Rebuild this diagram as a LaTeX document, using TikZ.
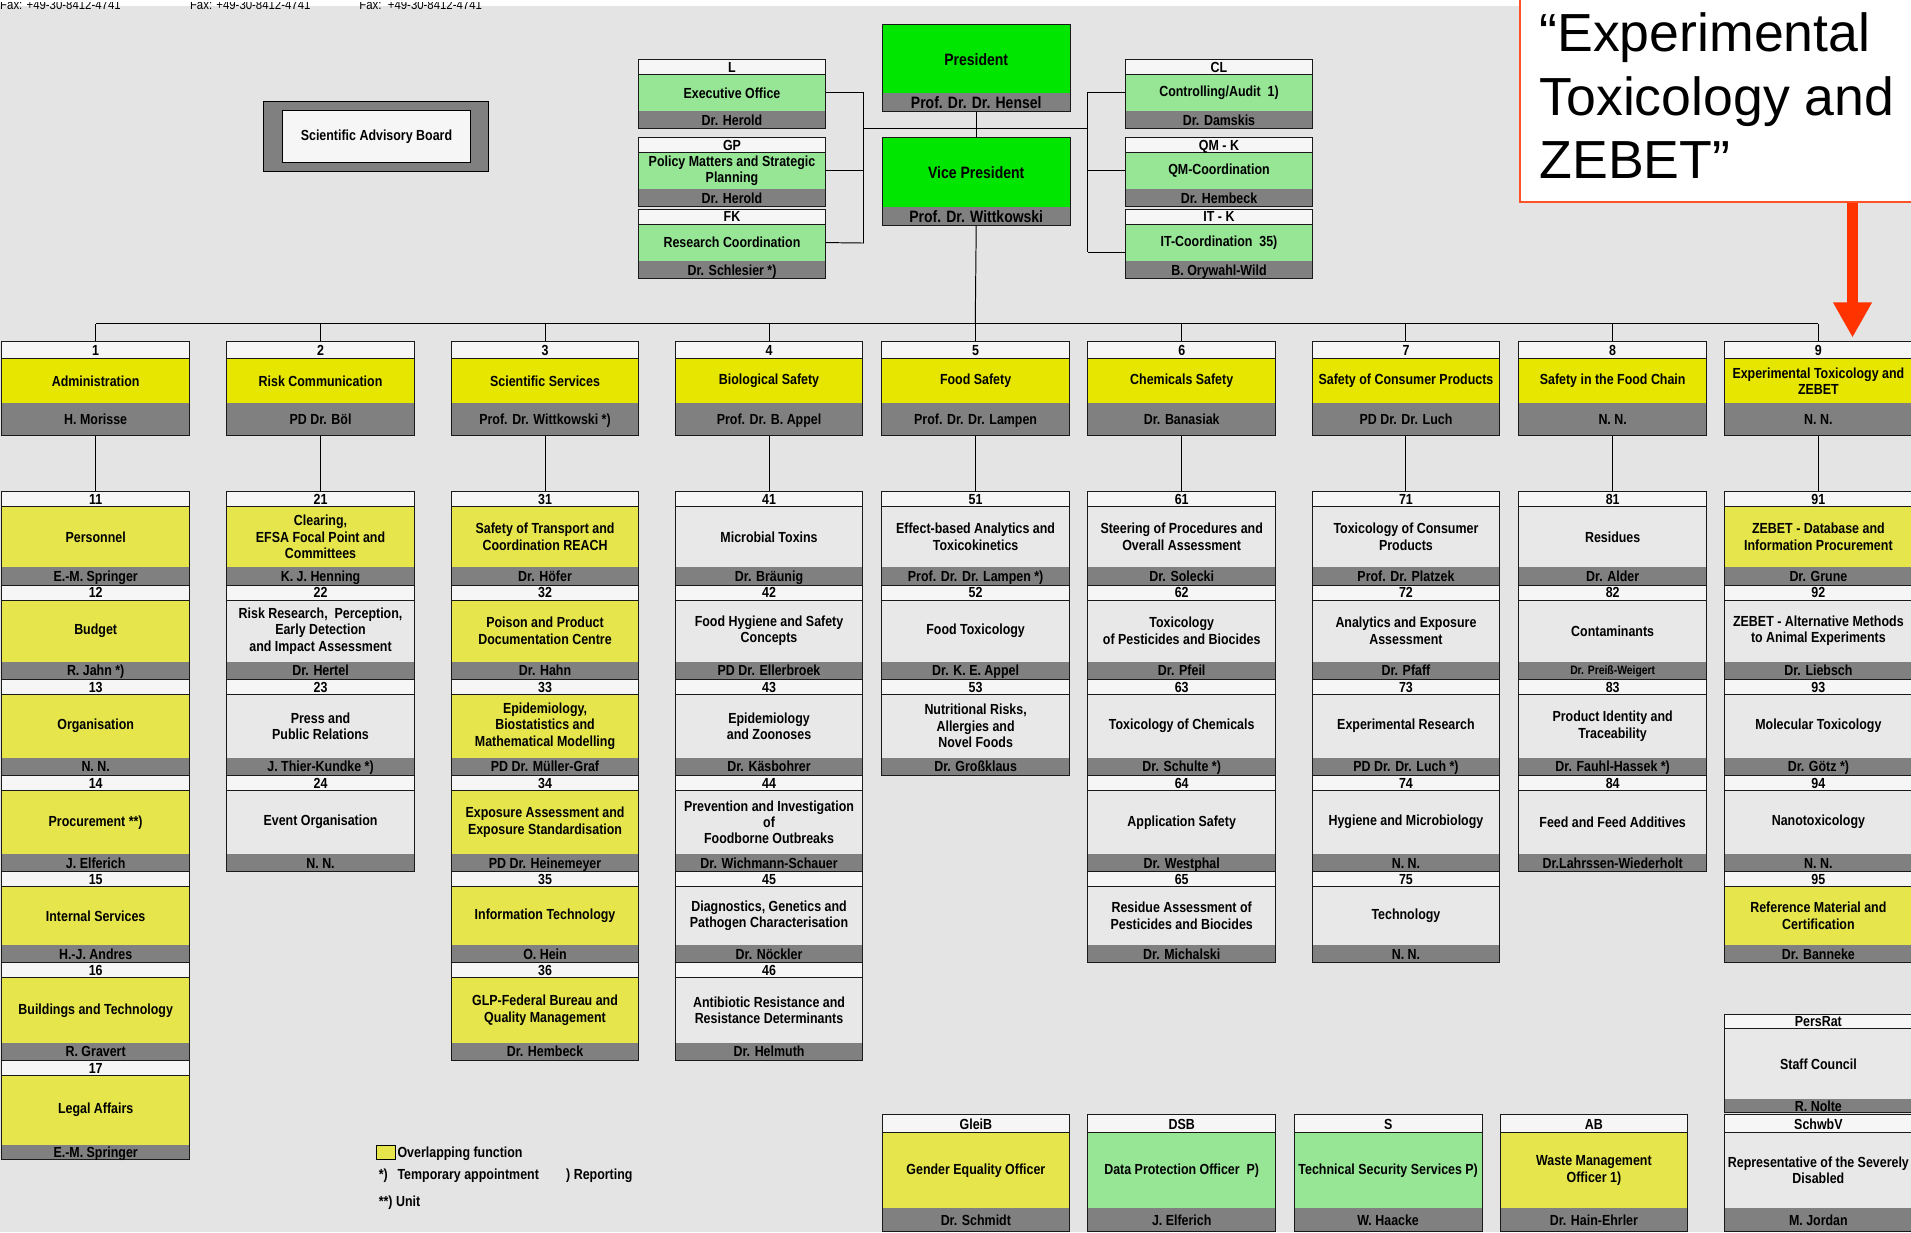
\documentclass[tikz,border=0pt]{standalone}
\usepackage{fontspec}
\setmainfont{Liberation Sans}
\newfontfamily\nar{Liberation Sans}[FakeStretch=0.85]
\usetikzlibrary{arrows.meta}
\definecolor{bg}{HTML}{E4E4E4}
\definecolor{hdr}{HTML}{F6F6F6}
\definecolor{wht}{HTML}{E8E8E8}
\definecolor{dyel}{HTML}{E6E600}
\definecolor{syel}{HTML}{E6E64C}
\definecolor{lgrn}{HTML}{96E696}
\definecolor{pgrn}{HTML}{00E600}
\definecolor{band}{HTML}{808080}
\definecolor{redann}{HTML}{FF3300}
\tikzset{
  boxline/.style={draw=black!90, line width=0.8pt},
  txt/.style={font={\nar\bfseries\fontsize{12}{13.5}\selectfont}, align=center, inner sep=0pt, text=black},
  line1/.style={txt, text height=8.6pt, text depth=0pt},
  conn/.style={draw=black, line width=0.8pt},
  big/.style={font={\nar\bfseries\fontsize{13.5}{15}\selectfont}, text height=9.7pt},
  small/.style={font={\nar\bfseries\fontsize{10}{11}\selectfont}, text height=7.2pt},
}
\def\hh{12.5}\def\bh{14.5}
% #1 name #2 left #3 top #4 bottom #5 header #6 fill #7 content #8 person #9 person style
\newcommand\ubox[9]{%
  \path[fill=hdr] (#2,#3) rectangle ++(154,\hh);
  \path[fill=#6] (#2,#3+\hh) rectangle (#2+154,#4-\bh);
  \path[fill=band] (#2,#4-\bh) rectangle (#2+154,#4);
  \node[boxline, minimum width=154, minimum height={(#4-#3)*1pt}, inner sep=0pt] (#1) at (#2+77,{(#3+#4)/2}) {};
  \draw[boxline] (#2,#3+\hh) -- ++(154,0);
  \node[line1] (#1h) at (#2+77,#3+\hh/2) {#5};
  \node[txt, minimum width=154, minimum height={(#4-#3-\hh-\bh)*1pt}] (#1c) at (#2+77,{(#3+\hh+#4-\bh)/2}) {#7};
  \node[line1,#9] (#1p) at (#2+77,#4-\bh/2) {#8};
}
\begin{document}
\begin{tikzpicture}[x=1pt,y=-1pt]
\useasboundingbox (0,0) rectangle (1568,1011);
\fill[bg] (0,0) rectangle (1568,1011);
\fill[white] (0,0) rectangle (1568,5);
% cut-off header texts
\begin{scope}
\clip (0,2.2) rectangle (600,12);
\node[anchor=base west, inner sep=0, font={\nar\fontsize{11}{12}\selectfont}] (fax1) at (0,7.7) {Fax: +49-30-8412-4741};
\node[anchor=base west, inner sep=0, font={\nar\fontsize{11}{12}\selectfont}] (fax2) at (155.7,7.7) {Fax: +49-30-8412-4741};
\node[anchor=base west, inner sep=0, font={\nar\fontsize{11}{12}\selectfont}] (fax3) at (294.7,7.7) {Fax:\ \ +49-30-8412-4741};
\end{scope}

% Scientific Advisory Board
\node[draw=black, line width=0.9pt, fill=band, minimum width=185, minimum height=57.5, inner sep=0] (sabO) at (308.5,112.2) {};
\node[txt, draw=black, line width=0.8pt, fill=hdr, minimum width=154.3, minimum height=42.4] (sab) at (308.9,112) {Scientific Advisory Board};

% top management
\def\hh{0}\def\bh{15}
\ubox{pres}{724}{20.5}{91.6}{}{pgrn}{{\fontsize{13.5}{15}\selectfont President}}{Prof. Dr. Dr. Hensel}{big}
\ubox{vp}{724}{112.7}{185.2}{}{pgrn}{{\fontsize{13.5}{15}\selectfont Vice President}}{Prof. Dr. Wittkowski}{big}
\def\hh{12.3}\def\bh{14.6}
\ubox{L}{523.6}{49.2}{105.6}{L}{lgrn}{Executive Office}{Dr. Herold}{}
\ubox{GP}{523.6}{112.7}{169.6}{GP}{lgrn}{Policy Matters and Strategic\\Planning}{Dr. Herold}{}
\ubox{FK}{523.6}{171.7}{228.7}{FK}{lgrn}{Research Coordination}{Dr. Schlesier *)}{}
\ubox{CL}{923.2}{49.2}{105.6}{CL}{lgrn}{Controlling/Audit\ \ 1)}{Dr. Damskis}{}
\ubox{QM}{923.2}{112.7}{169.6}{QM - K}{lgrn}{QM-Coordination}{Dr. Hembeck}{}
\ubox{IT}{923.2}{171.7}{228.7}{IT - K}{lgrn}{IT-Coordination\ \ 35)}{B. Orywahl-Wild}{}

% departments
\def\hh{13.7}\def\bh{26.8}
\ubox{d1}{1.5}{280.6}{357.7}{1}{dyel}{Administration}{H. Morisse}{}
\ubox{d2}{186}{280.6}{357.7}{2}{dyel}{Risk Communication}{PD Dr. B\"ol}{}
\ubox{d3}{370.2}{280.6}{357.7}{3}{dyel}{Scientific Services}{Prof. Dr. Wittkowski *)}{}
\ubox{d4}{554}{280.6}{357.7}{4}{dyel}{Biological Safety}{Prof. Dr. B. Appel}{}
\ubox{d5}{723.5}{280.6}{357.7}{5}{dyel}{Food Safety}{Prof. Dr. Dr. Lampen}{}
\ubox{d6}{892.6}{280.6}{357.7}{6}{dyel}{Chemicals Safety}{Dr. Banasiak}{}
\ubox{d7}{1076.6}{280.6}{357.7}{7}{dyel}{Safety of Consumer Products}{PD Dr. Dr. Luch}{}
\ubox{d8}{1246.2}{280.6}{357.7}{8}{dyel}{Safety in the Food Chain}{N. N.}{}
\ubox{d9}{1415}{280.6}{357.7}{9}{dyel}{Experimental Toxicology and\\ZEBET}{N. N.}{}

% units
\def\hh{12.5}\def\bh{14.5}
\ubox{u11}{1.5}{403}{480}{11}{syel}{Personnel}{E.-M. Springer}{}
\ubox{u12}{1.5}{480}{557.4}{12}{syel}{Budget}{R. Jahn *)}{}
\ubox{u13}{1.5}{557.4}{636.1}{13}{syel}{Organisation}{N. N.}{}
\ubox{u14}{1.5}{636.1}{715.2}{14}{syel}{Procurement **)}{J. Elferich}{}
\ubox{u15}{1.5}{715.2}{789.9}{15}{syel}{Internal Services}{H.-J. Andres}{}
\ubox{u16}{1.5}{789.9}{870}{16}{syel}{Buildings and Technology}{R. Gravert}{}
\def\bh{11.6}
\ubox{u17}{1.5}{870}{951}{17}{syel}{Legal Affairs}{E.-M. Springer}{}
\def\bh{14.5}

\ubox{u21}{186}{403}{480}{21}{syel}{Clearing,\\EFSA Focal Point and\\Committees}{K. J. Henning}{}
\ubox{u22}{186}{480}{557.4}{22}{wht}{Risk Research,\ \ Perception,\\Early Detection\\and Impact Assessment}{Dr. Hertel}{}
\ubox{u23}{186}{557.4}{636.1}{23}{wht}{Press and\\Public Relations}{J. Thier-Kundke *)}{}
\ubox{u24}{186}{636.1}{715.2}{24}{wht}{Event Organisation}{N. N.}{}

\ubox{u31}{370.2}{403}{480}{31}{syel}{Safety of Transport and\\Coordination REACH}{Dr. H\"ofer}{}
\ubox{u32}{370.2}{480}{557.4}{32}{syel}{Poison and Product\\Documentation Centre}{Dr. Hahn}{}
\ubox{u33}{370.2}{557.4}{636.1}{33}{syel}{Epidemiology,\\Biostatistics and\\Mathematical Modelling}{PD Dr. M\"uller-Graf}{}
\ubox{u34}{370.2}{636.1}{715.2}{34}{syel}{Exposure Assessment and\\Exposure Standardisation}{PD Dr. Heinemeyer}{}
\ubox{u35}{370.2}{715.2}{789.9}{35}{syel}{Information Technology}{O. Hein}{}
\ubox{u36}{370.2}{789.9}{870}{36}{syel}{GLP-Federal Bureau and\\Quality Management}{Dr. Hembeck}{}

\ubox{u41}{554}{403}{480}{41}{wht}{Microbial Toxins}{Dr. Br\"aunig}{}
\ubox{u42}{554}{480}{557.4}{42}{wht}{Food Hygiene and Safety\\Concepts}{PD Dr. Ellerbroek}{}
\ubox{u43}{554}{557.4}{636.1}{43}{wht}{Epidemiology\\and Zoonoses}{Dr. K\"asbohrer}{}
\ubox{u44}{554}{636.1}{715.2}{44}{wht}{Prevention and Investigation\\of\\Foodborne Outbreaks}{Dr. Wichmann-Schauer}{}
\ubox{u45}{554}{715.2}{789.9}{45}{wht}{Diagnostics, Genetics and\\Pathogen Characterisation}{Dr. N\"ockler}{}
\ubox{u46}{554}{789.9}{870}{46}{wht}{Antibiotic Resistance and\\Resistance Determinants}{Dr. Helmuth}{}

\ubox{u51}{723.5}{403}{480}{51}{wht}{Effect-based Analytics and\\Toxicokinetics}{Prof. Dr. Dr. Lampen *)}{}
\ubox{u52}{723.5}{480}{557.4}{52}{wht}{Food Toxicology}{Dr. K. E. Appel}{}
\ubox{u53}{723.5}{557.4}{636.1}{53}{wht}{Nutritional Risks,\\Allergies and\\Novel Foods}{Dr. Gro\ss klaus}{}

\ubox{u61}{892.6}{403}{480}{61}{wht}{Steering of Procedures and\\Overall Assessment}{Dr. Solecki}{}
\ubox{u62}{892.6}{480}{557.4}{62}{wht}{Toxicology\\of Pesticides and Biocides}{Dr. Pfeil}{}
\ubox{u63}{892.6}{557.4}{636.1}{63}{wht}{Toxicology of Chemicals}{Dr. Schulte *)}{}
\ubox{u64}{892.6}{636.1}{715.2}{64}{wht}{Application Safety}{Dr. Westphal}{}
\ubox{u65}{892.6}{715.2}{789.9}{65}{wht}{Residue Assessment of\\Pesticides and Biocides}{Dr. Michalski}{}

\ubox{u71}{1076.6}{403}{480}{71}{wht}{Toxicology of Consumer\\Products}{Prof. Dr. Platzek}{}
\ubox{u72}{1076.6}{480}{557.4}{72}{wht}{Analytics and Exposure\\Assessment}{Dr. Pfaff}{}
\ubox{u73}{1076.6}{557.4}{636.1}{73}{wht}{Experimental Research}{PD Dr. Dr. Luch *)}{}
\ubox{u74}{1076.6}{636.1}{715.2}{74}{wht}{Hygiene and Microbiology}{N. N.}{}
\ubox{u75}{1076.6}{715.2}{789.9}{75}{wht}{Technology}{N. N.}{}

\ubox{u81}{1246.2}{403}{480}{81}{wht}{Residues}{Dr. Alder}{}
\ubox{u82}{1246.2}{480}{557.4}{82}{wht}{Contaminants}{Dr. Prei\ss-Weigert}{small}
\ubox{u83}{1246.2}{557.4}{636.1}{83}{wht}{Product Identity and\\Traceability}{Dr. Fauhl-Hassek *)}{}
\ubox{u84}{1246.2}{636.1}{715.2}{84}{wht}{Feed and Feed Additives}{Dr.Lahrssen-Wiederholt}{}

\ubox{u91}{1415}{403}{480}{91}{syel}{ZEBET - Database and\\Information Procurement}{Dr. Grune}{}
\ubox{u92}{1415}{480}{557.4}{92}{wht}{ZEBET - Alternative Methods\\to Animal Experiments}{Dr. Liebsch}{}
\ubox{u93}{1415}{557.4}{636.1}{93}{wht}{Molecular Toxicology}{Dr. G\"otz *)}{}
\ubox{u94}{1415}{636.1}{715.2}{94}{wht}{Nanotoxicology}{N. N.}{}
\ubox{u95}{1415}{715.2}{789.9}{95}{syel}{Reference Material and\\Certification}{Dr. Banneke}{}

% staff council and officers
\def\hh{12}\def\bh{10.6}
\ubox{pr}{1415}{832}{912.6}{PersRat}{wht}{Staff Council}{R. Nolte}{}
\def\hh{14.5}\def\bh{19.2}
\ubox{gb}{723.7}{914.8}{1010.6}{GleiB}{syel}{Gender Equality Officer}{Dr. Schmidt}{}
\ubox{dsb}{892.6}{914.8}{1010.6}{DSB}{lgrn}{Data Protection Officer\ \ P)}{J. Elferich}{}
\ubox{s}{1062}{914.8}{1010.6}{S}{lgrn}{Technical Security Services P)}{W. Haacke}{}
\ubox{ab}{1230.8}{914.8}{1010.6}{AB}{syel}{Waste Management\\Officer 1)}{Dr. Hain-Ehrler}{}
\ubox{sv}{1415}{914.8}{1010.6}{SchwbV}{wht}{Representative of the Severely\\Disabled}{M. Jordan}{}

% connectors top
\coordinate (lbB) at (708.6,199.4);
\coordinate (rbB) at (892.6,207);
\coordinate (xl) at (708.6,105.3);
\coordinate (xr) at (892.6,105.3);
\draw[conn] (Lc.east) -| (lbB);
\draw[conn] (GPc.east) -- (GPc.east -| lbB);
\draw[conn] (FKc.east) -- (lbB);
\draw[conn] (CLc.west) -| (rbB);
\draw[conn] (QMc.west) -- (QMc.west -| rbB);
\draw[conn] (rbB) -- (rbB -| ITc.west);
\draw[conn] (xl) -- (xr);
\draw[conn] (pres.south) -- (vp.north);
\coordinate (busY) at (800.2,265.8);
\draw[conn] (vp.south) -- (busY);
\draw[conn] (d1.north |- busY) -- (d9.north |- busY);
\foreach \i in {1,...,9}{
  \draw[conn] (d\i.north) -- (d\i.north |- busY);
  \draw[conn] (d\i.south) -- (u\i1.north);
}

% legend
\node[draw=black, line width=0.6pt, fill=syel, minimum width=16, minimum height=11.5, inner sep=0] (lgsq) at (316.5,945.2) {};
\node[line1, anchor=west] (lg1) at (326,945.6) {Overlapping function};
\node[line1, anchor=west] (lg2) at (310.6,963.3) {*)};
\node[line1, anchor=west] (lg3) at (326,963.3) {Temporary appointment};
\node[line1, anchor=west] (lg4) at (464.4,963.3) {) Reporting};
\node[line1, anchor=west] (lg5) at (310.6,985.4) {**) Unit};

% annotation
\node[draw=redann!85!white, line width=1.6pt, fill=white, minimum width=326, minimum height=170, inner sep=0] (annot) at (1410,81) {};
\node[anchor=base west, inner sep=0, font={\fontsize{44}{52}\selectfont}] (an1) at (1263,42.4) {“Experimental};
\node[anchor=base west, inner sep=0, font={\fontsize{44}{52}\selectfont}] (an2) at (1263,94.4) {Toxicology and};
\node[anchor=base west, inner sep=0, font={\fontsize{44}{52}\selectfont}] (an3) at (1263,146.3) {ZEBET”};
\coordinate (tip) at (1520,277);
\draw[redann, line width=9.6pt, -{Triangle[width=30pt,length=29pt]}] (annot.south -| tip) -- (tip);
\end{tikzpicture}
\end{document}
